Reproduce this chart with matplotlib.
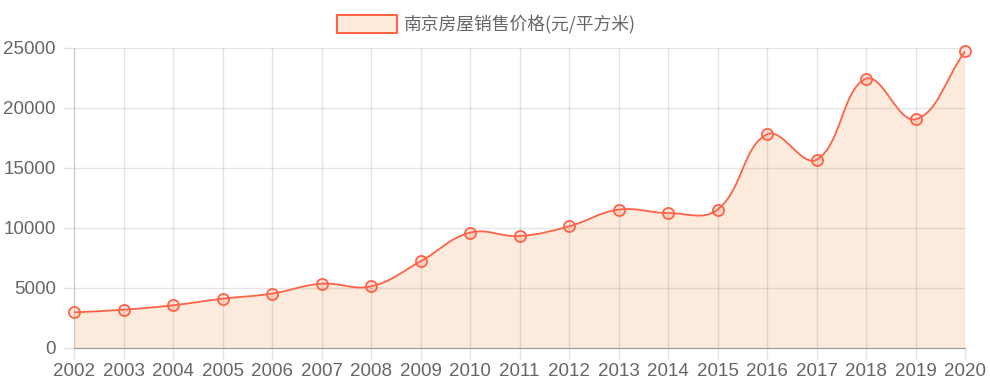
import numpy as np
import matplotlib
matplotlib.use("Agg")
import matplotlib.pyplot as plt
from matplotlib.path import Path
from matplotlib.patches import PathPatch, Rectangle

# data
years = [2002, 2003, 2004, 2005, 2006, 2007, 2008, 2009, 2010, 2011,
         2012, 2013, 2014, 2015, 2016, 2017, 2018, 2019, 2020]
prices = [2970, 3190, 3560, 4110, 4530, 5360, 5140, 7220, 9610, 9330,
          10140, 11530, 11250, 11530, 17810, 15690, 22440, 19060, 24720]
series_label = "南京房屋销售价格(元/平方米)"
y_ticks = [0, 5000, 10000, 15000, 20000, 25000]

line_color = "#ff6347"
fill_color = "#fcebdc"
text_color = "#666666"

plt.rcParams['font.family'] = ['Liberation Sans', 'DejaVu Sans']

fig = plt.figure(figsize=(9.9, 3.9), dpi=100)
ax = fig.add_axes([74/990, 42/390, (965-74)/990, 300/390])
ax.set_xlim(years[0], years[-1])
ax.set_ylim(0, 25000)

# spline like chart.js (tension 0.4), control points computed in pixel space
fig.canvas.draw()
pts = ax.transData.transform(np.column_stack([years, prices]))
n = len(pts)
tension = 0.4
cp_prev = pts.copy()
cp_next = pts.copy()
for i in range(n):
    prev = pts[i-1] if i > 0 else pts[i]
    nxt = pts[i+1] if i < n-1 else pts[i]
    d01 = np.hypot(*(pts[i] - prev))
    d12 = np.hypot(*(nxt - pts[i]))
    tot = d01 + d12
    s01 = d01 / tot if tot else 0
    s12 = d12 / tot if tot else 0
    cp_prev[i] = pts[i] - tension * s01 * (nxt - prev)
    cp_next[i] = pts[i] + tension * s12 * (nxt - prev)

verts = [pts[0]]
codes = [Path.MOVETO]
for i in range(n-1):
    verts += [cp_next[i], cp_prev[i+1], pts[i+1]]
    codes += [Path.CURVE4] * 3
inv = ax.transData.inverted()
verts_d = inv.transform(np.array(verts))

curve = Path(verts_d, codes)
fill_verts = list(verts_d) + [(years[-1], 0), (years[0], 0), verts_d[0]]
fill_codes = codes + [Path.LINETO, Path.LINETO, Path.CLOSEPOLY]
ax.add_patch(PathPatch(Path(fill_verts, fill_codes), facecolor=fill_color,
                       edgecolor='none', zorder=0.2))
ax.add_patch(PathPatch(curve, facecolor='none', edgecolor=line_color,
                       lw=1.3, zorder=3))
ax.plot(years, prices, 'o', ms=8, mfc=(1, 0.39, 0.28, 0.15), mec=line_color,
        mew=1.3, zorder=4, clip_on=False)

ax.set_xticks(years)
ax.set_yticks(y_ticks)
ax.set_axisbelow(True)
ax.grid(True)
ax.tick_params(length=8, width=1, color='#e3e3e3', labelsize=13.5,
               labelcolor=text_color, pad=3,
               grid_color='black', grid_alpha=0.1, grid_linewidth=1)
ax.tick_params(axis='y', pad=5)
for s in ['top', 'right']:
    ax.spines[s].set_visible(False)
ax.spines['left'].set_color('#c8c8c8')
ax.spines['bottom'].set_color('#9a9a9a')

# legend
fig.patches.append(Rectangle((337/990, 1 - 33/390), 60/990, 18/390,
                             transform=fig.transFigure, facecolor=fill_color,
                             edgecolor=line_color, lw=1.5))
fig.text(404/990, 1 - 24/390, series_label, fontsize=12.8, color=text_color,
         va='center', ha='left', family=['Noto Sans CJK SC', 'DejaVu Sans'])

fig.savefig("out.png", dpi=100)
